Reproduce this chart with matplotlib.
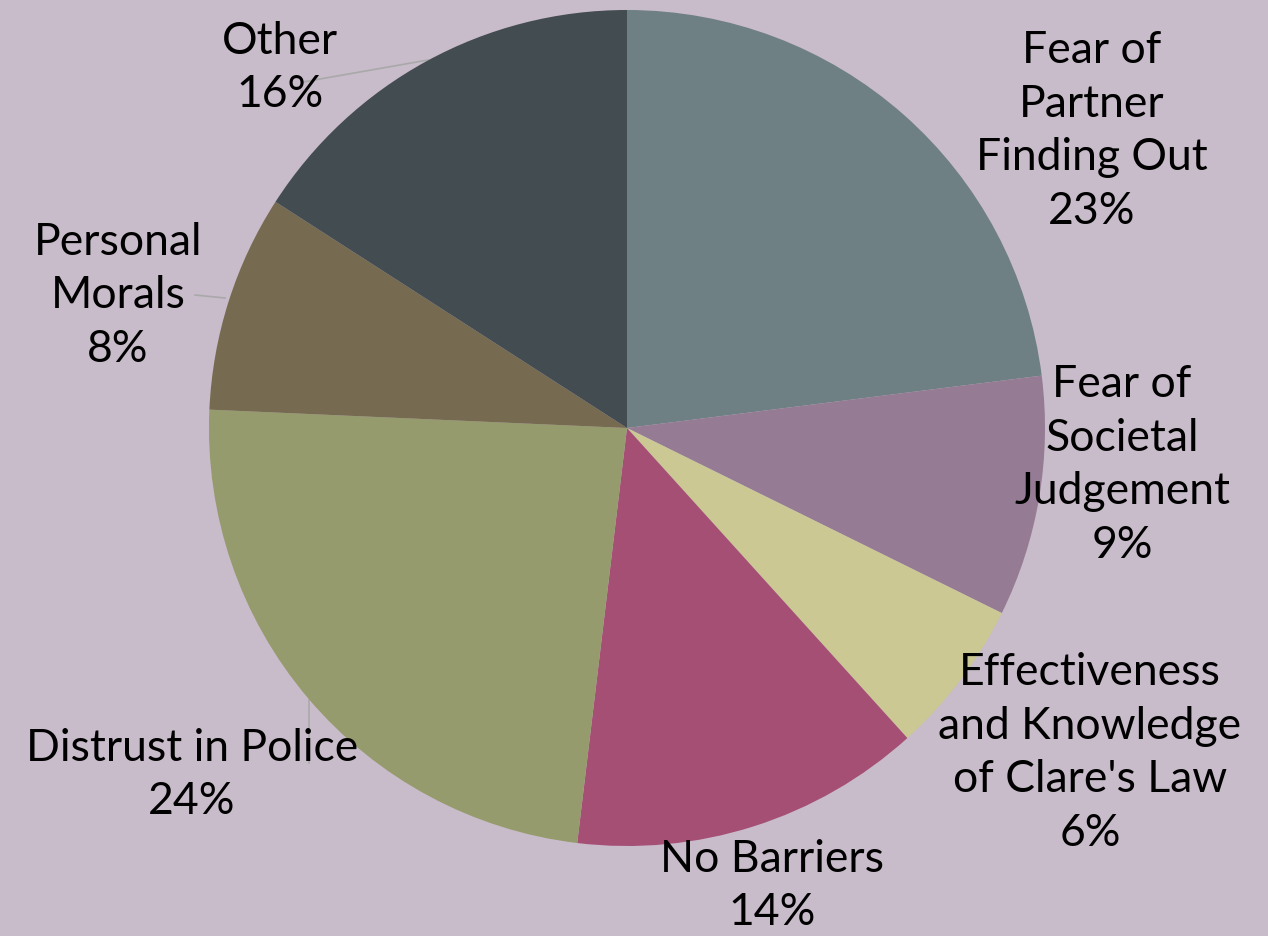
import matplotlib
matplotlib.use("Agg")
import matplotlib.pyplot as plt

# %% data

reasons = [
    "Fear of\nPartner\nFinding Out",
    "Fear of\nSocietal\nJudgement",
    "Effectiveness\nand Knowledge\nof Clare's Law",
    "No Barriers",
    "Distrust in Police",
    "Personal\nMorals",
    "Other",
]
shares = [23.0, 9.3, 6.0, 13.6, 23.8, 8.4, 15.9]
colors = ["#6e8084", "#957c94", "#cbc893", "#a54f75", "#959b6c", "#766a50", "#434c50"]

# label centres in pixels
label_px = [(1092, 131), (1122, 465), (1090, 753), (772, 886), (192, 775), (118, 296), (280, 68)]

bg = "#c8bbca"

# %% figure

W, H = 1268, 936
cx, cy, R = 627, 428, 418

fig = plt.figure(figsize=(W / 100, H / 100), dpi=100, facecolor=bg)
ax = fig.add_axes([0, 0, 1, 1])
ax.set_facecolor(bg)

def px(x, y):
    return (x - cx) / R, (cy - y) / R

ax.pie(
    shares,
    colors=colors,
    startangle=90,
    counterclock=False,
    radius=1,
    wedgeprops=dict(linewidth=0),
)

ax.set_xlim(-cx / R, (W - cx) / R)
ax.set_ylim(-(H - cy) / R, cy / R)
ax.set_aspect("auto")
ax.axis("off")

total = sum(shares)
for name, val, (lx, ly) in zip(reasons, shares, label_px):
    tx, ty = px(lx, ly)
    ax.text(tx, ty, f"{name}\n{round(val / total * 100)}%",
            ha="center", va="center", fontsize=32, family="Lato",
            linespacing=1.38, color="#000000")

# leader lines
lc = "#a9a9a9"
for (x0, y0), (x1, y1) in [((303, 82), (428, 60)), ((195, 295), (225, 298)), ((309, 700), (309, 763))]:
    a, b = px(x0, y0)
    c, d = px(x1, y1)
    ax.plot([a, c], [b, d], color=lc, lw=1.2, zorder=0.5)

fig.savefig("out.png", dpi=100, facecolor=bg)
